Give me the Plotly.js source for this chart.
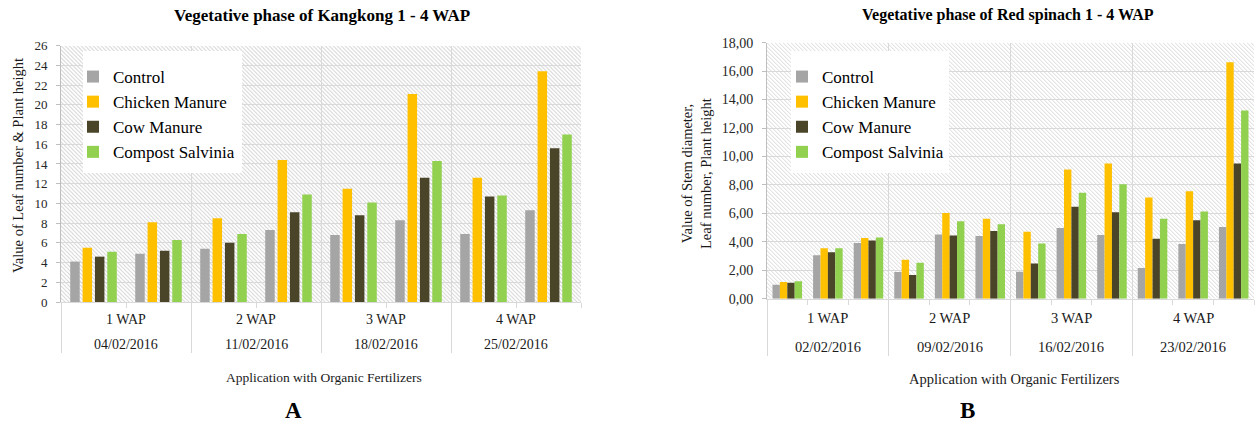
<!DOCTYPE html>
<html><head><meta charset="utf-8">
<script src="https://cdn.plot.ly/plotly-3.0.1.min.js"></script>
<style>html,body{margin:0;padding:0;background:#fff}#chart{width:1255px;height:423px}</style>
</head><body><div id="chart"></div>
<script>
const seriesNames = ['Control', 'Chicken Manure', 'Cow Manure', 'Compost Salvinia'];
const seriesColors = ['#a5a5a5', '#ffc000', '#4a4529', '#92d050'];

// Chart A: Kangkong (2 observations per week)
const weeksA = ['1 WAP', '2 WAP', '3 WAP', '4 WAP'];
const datesA = ['04/02/2016', '11/02/2016', '18/02/2016', '25/02/2016'];
const catsA = ['1a', '1b', '2a', '2b', '3a', '3b', '4a', '4b'];
const controlA = [4.1, 4.9, 5.4, 7.3, 6.8, 8.3, 6.9, 9.3];
const chickenA = [5.5, 8.1, 8.5, 14.4, 11.5, 21.1, 12.6, 23.4];
const cowA = [4.6, 5.2, 6.0, 9.1, 8.8, 12.6, 10.7, 15.6];
const compostA = [5.1, 6.3, 6.9, 10.9, 10.1, 14.3, 10.8, 17.0];

// Chart B: Red spinach (3 observations per week)
const weeksB = ['1 WAP', '2 WAP', '3 WAP', '4 WAP'];
const datesB = ['02/02/2016', '09/02/2016', '16/02/2016', '23/02/2016'];
const catsB = ['1a', '1b', '1c', '2a', '2b', '2c', '3a', '3b', '3c', '4a', '4b', '4c'];
const controlB = [0.98, 3.05, 3.91, 1.87, 4.52, 4.41, 1.90, 4.97, 4.48, 2.16, 3.84, 5.04];
const chickenB = [1.17, 3.54, 4.27, 2.74, 6.02, 5.62, 4.71, 9.09, 9.51, 7.12, 7.55, 16.62];
const cowB = [1.12, 3.26, 4.10, 1.66, 4.45, 4.76, 2.48, 6.47, 6.07, 4.22, 5.51, 9.51];
const compostB = [1.22, 3.54, 4.31, 2.53, 5.44, 5.23, 3.89, 7.45, 8.04, 5.62, 6.14, 13.24];

const FONT = 'Liberation Serif, Times New Roman, serif';
const W = 1255, H = 423;
const px = v => v / W;
const py = v => 1 - v / H;

const valsA = [controlA, chickenA, cowA, compostA];
const valsB = [controlB, chickenB, cowB, compostB];

const traces = [];
valsA.forEach((ys, k) => traces.push({
  type: 'bar', x: catsA, y: ys, name: seriesNames[k], xaxis: 'x', yaxis: 'y',
  marker: {color: seriesColors[k]}, width: 0.146, offset: -0.358 + k * 0.19,
  legend: 'legend', hoverinfo: 'y+name'
}));
valsB.forEach((ys, k) => traces.push({
  type: 'bar', x: catsB, y: ys, name: seriesNames[k], xaxis: 'x2', yaxis: 'y2',
  marker: {color: seriesColors[k]}, width: 0.182, offset: -0.364 + k * 0.182,
  legend: 'legend2', hoverinfo: 'y+name'
}));

function hatch(w, h) {
  const svg = '<svg xmlns="http://www.w3.org/2000/svg" width="' + w + '" height="' + h + '">' +
    '<defs><pattern id="p" width="4" height="4" patternUnits="userSpaceOnUse">' +
    '<rect width="4" height="4" fill="#ffffff"/>' +
    '<path d="M0,0L4,4M-1,3L1,5M3,-1L5,1" stroke="#d9d9d9" stroke-width="1"/></pattern></defs>' +
    '<rect width="' + w + '" height="' + h + '" fill="url(#p)"/></svg>';
  return 'data:image/svg+xml;charset=utf-8,' + encodeURIComponent(svg);
}

const boxA = {l: 61, r: 581, t: 45.7, b: 302};
const boxB = {l: 767, r: 1254, t: 42.7, b: 298.7};

function bounds(n, per) { const a = []; for (let i = 0; i <= n; i += per) a.push(i - 0.5); return a; }
function allBounds(n) { const a = []; for (let i = 0; i <= n; i++) a.push(i - 0.5); return a; }

function xaxisCfg(box, cats, per, len) {
  return {
    domain: [px(box.l), px(box.r)], type: 'category', categoryarray: cats,
    range: [-0.5, cats.length - 0.5], fixedrange: true,
    showticklabels: false, tickmode: 'array', tickvals: bounds(cats.length, per),
    ticks: 'outside', ticklen: len, tickcolor: '#d9d9d9', tickwidth: 1,
    showgrid: true, gridcolor: '#d9d9d9', gridwidth: 1,
    showline: true, linecolor: '#d9d9d9', linewidth: 1, zeroline: false,
    minor: {tickmode: 'array', tickvals: allBounds(cats.length), ticks: 'outside', ticklen: 5, tickcolor: '#d9d9d9', showgrid: false}
  };
}
function yaxisCfg(box, max, fmt, size) {
  return {
    domain: [py(box.b), py(box.t)], range: [0, max], dtick: 2, tick0: 0, fixedrange: true,
    tickformat: fmt, showgrid: true, gridcolor: '#d9d9d9', gridwidth: 1,
    showline: true, linecolor: '#bfbfbf', linewidth: 1, zeroline: false,
    ticks: 'outside', ticklen: 4, tickcolor: '#bfbfbf',
    tickfont: {family: FONT, size: size, color: '#262626'}, ticklabelstandoff: 6
  };
}

const ann = [];
const txt = (text, x, y, size, opts) => Object.assign({
  text: text, xref: 'paper', yref: 'paper', x: x, y: y, xanchor: 'center', yanchor: 'middle',
  showarrow: false, font: {family: FONT, size: size, color: '#1a1a1a'}
}, opts || {});

ann.push(txt('Vegetative phase of Kangkong 1 - 4 WAP', px(322), py(15), 17, {font: {family: FONT, size: 17, color: '#000', weight: 700}}));
ann.push(txt('Vegetative phase of Red spinach 1 - 4 WAP', px(1008), py(15), 16, {font: {family: FONT, size: 16, color: '#000', weight: 700}}));
ann.push(txt('Value of Leaf number & Plant height', px(18), py(166), 14.5, {textangle: -90}));
ann.push(txt('Value of Stem diameter,<br>Leaf number, Plant height', px(697), py(174), 14.5, {textangle: -90}));
ann.push(txt('Application with Organic Fertilizers', px(324), py(377), 13.5));
ann.push(txt('Application with Organic Fertilizers', px(1015), py(379), 14.5));
ann.push(txt('A', px(293), py(410), 23, {font: {family: FONT, size: 23, color: '#000', weight: 700}}));
ann.push(txt('B', px(967), py(410), 23, {font: {family: FONT, size: 23, color: '#000', weight: 700}}));

weeksA.forEach((w, i) => {
  ann.push(txt(w, i * 2 + 0.5, py(319), 14, {xref: 'x'}));
  ann.push(txt(datesA[i], i * 2 + 0.5, py(344), 14, {xref: 'x'}));
});
weeksB.forEach((w, i) => {
  ann.push(txt(w, i * 3 + 1, py(318), 14.5, {xref: 'x2'}));
  ann.push(txt(datesB[i], i * 3 + 1, py(347), 14.5, {xref: 'x2'}));
});

const hatchImg = box => ({
  source: hatch(Math.round(box.r - box.l), Math.round(box.b - box.t)),
  xref: 'paper', yref: 'paper', x: px(box.l), y: py(box.t),
  sizex: (box.r - box.l) / W, sizey: (box.b - box.t) / H,
  sizing: 'stretch', xanchor: 'left', yanchor: 'top', layer: 'below'
});

const legendRect = (l, t, r, b) => ({
  type: 'rect', xref: 'paper', yref: 'paper', x0: px(l), x1: px(r), y0: py(b), y1: py(t),
  fillcolor: '#ffffff', line: {width: 0}, layer: 'above'
});

const legendCfg = x => ({
  x: px(x), y: py(59), xanchor: 'left', yanchor: 'top', bgcolor: 'rgba(0,0,0,0)',
  borderwidth: 0, font: {family: FONT, size: 17, color: '#000'}, itemwidth: 30,
  itemclick: false, itemdoubleclick: false
});

const layout = {
  width: W, height: H, margin: {l: 0, r: 0, t: 0, b: 0},
  paper_bgcolor: '#ffffff', plot_bgcolor: 'rgba(0,0,0,0)',
  separators: ',.', showlegend: true,
  xaxis: xaxisCfg(boxA, catsA, 2, 50),
  yaxis: yaxisCfg(boxA, 26, 'd', 13),
  xaxis2: Object.assign(xaxisCfg(boxB, catsB, 3, 56), {anchor: 'y2'}),
  yaxis2: Object.assign(yaxisCfg(boxB, 18, '.2f', 14), {anchor: 'x2'}),
  legend: legendCfg(73),
  legend2: legendCfg(782),
  images: [hatchImg(boxA), hatchImg(boxB)],
  shapes: [legendRect(83, 51, 242, 173), legendRect(791, 51, 949, 173)],
  annotations: ann,
  font: {family: FONT}
};

Plotly.newPlot('chart', traces, layout, {displayModeBar: false, staticPlot: true});
</script>
</body></html>
